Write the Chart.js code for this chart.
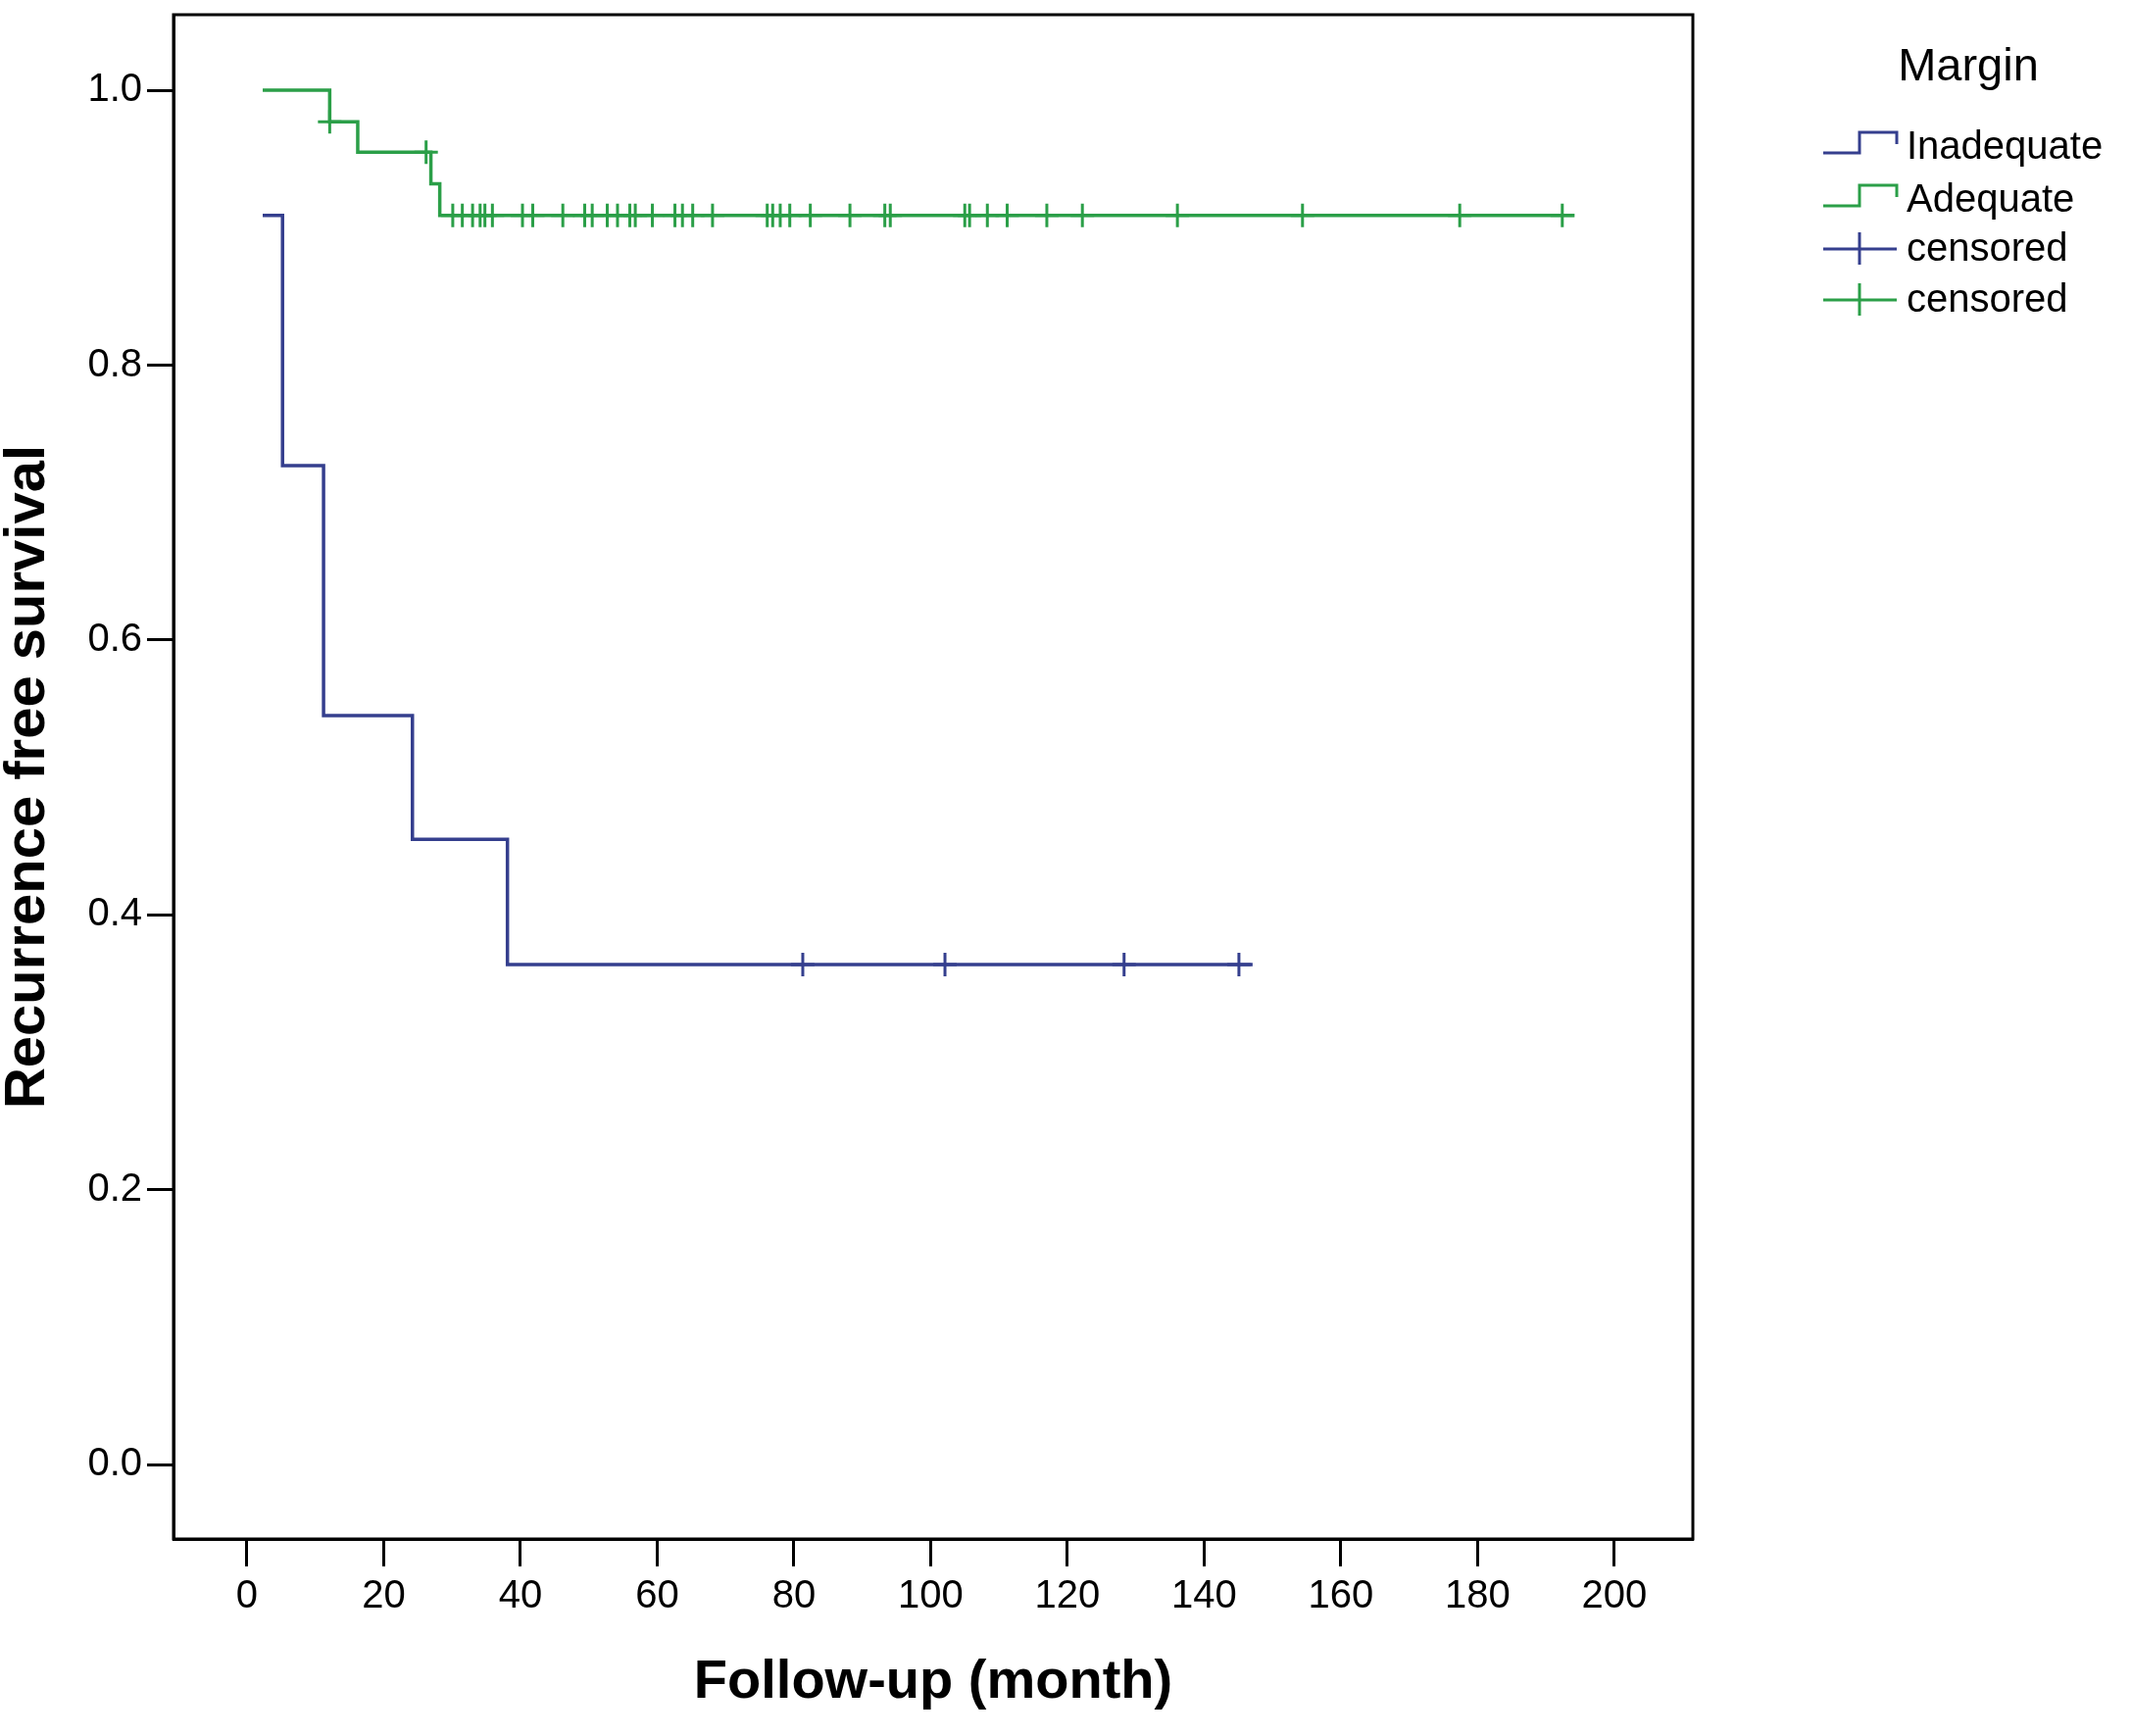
<!DOCTYPE html>
<html>
<head>
<meta charset="utf-8">
<title>Recurrence free survival by margin</title>
<script src="https://cdn.jsdelivr.net/npm/chart.js@4.4.1/dist/chart.umd.min.js"></script>
<style>
  html, body { margin: 0; padding: 0; background: #fff; }
  canvas { display: block; }
</style>
</head>
<body>
<canvas id="chart-km" width="2175" height="1771"></canvas>
<script>
// Kaplan-Meier steps: time (month) and survival after that time
const inadequate_time = [2.3, 5.2, 11.2, 24.2, 38.1, 147.1];
const inadequate_surv = [0.909, 0.727, 0.545, 0.455, 0.364, 0.364];
const inadequate_censored = [81.3, 102.1, 128.3, 145.1];

const adequate_time = [2.3, 12.1, 16.2, 26.9, 28.2, 194.2];
const adequate_surv = [1.0, 0.977, 0.955, 0.932, 0.909, 0.909];
const adequate_censored = [12.1, 26.2, 30.1, 31.5, 33.0, 34.1, 34.8, 35.9, 40.3, 41.8,
  46.2, 49.4, 50.5, 52.7, 54.2, 56.0, 56.8, 59.3, 62.6, 63.7, 65.2, 68.1,
  76.1, 76.9, 78.0, 79.4, 82.4, 88.2, 93.3, 94.1,
  105.0, 105.7, 108.3, 111.2, 117.0, 122.2, 136.1, 154.4, 177.4, 192.4];

const x_ticks = [0, 20, 40, 60, 80, 100, 120, 140, 160, 180, 200];
const y_ticks = [0.0, 0.2, 0.4, 0.6, 0.8, 1.0];

const blue = "#353f8e";
const green = "#2b9f48";
const font_family = "'Liberation Sans', Arial, sans-serif";

function surv_at(times, surv, t) {
  let s = surv[0];
  for (let i = 0; i < times.length; i++) {
    if (t >= times[i]) s = surv[i];
  }
  return s;
}

function steps(times, surv) {
  return times.map((t, i) => ({ x: t, y: surv[i] }));
}

function marks(times, surv, censored) {
  return censored.map((t) => ({ x: t, y: surv_at(times, surv, t) }));
}

// full frame round the plot area
const frame = {
  id: "frame",
  afterDraw(chart) {
    const { ctx, chartArea: a } = chart;
    ctx.save();
    ctx.strokeStyle = "#000";
    ctx.lineWidth = 3;
    ctx.strokeRect(a.left, a.top, a.right - a.left, a.bottom - a.top);
    ctx.restore();
  },
};

// SPSS style legend on the right
const legend_margin = {
  id: "legend_margin",
  afterDraw(chart) {
    const ctx = chart.ctx;
    const right = chart.chartArea.right;
    const sx0 = right + 133;
    const sx1 = right + 170;
    const sx2 = right + 208;
    const tx = right + 218;
    const baselines = [162, 216, 266, 318];
    ctx.save();
    ctx.fillStyle = "#000";
    ctx.textBaseline = "alphabetic";
    ctx.textAlign = "center";
    ctx.font = "47px " + font_family;
    ctx.fillText("Margin", right + 281, 82);
    ctx.textAlign = "left";
    ctx.font = "40px " + font_family;
    chart.data.datasets.forEach((ds, i) => {
      const b = baselines[i];
      ctx.strokeStyle = ds.borderColor;
      ctx.lineWidth = 3;
      ctx.beginPath();
      if (ds.legendKind === "step") {
        ctx.moveTo(sx0, b - 6);
        ctx.lineTo(sx1, b - 6);
        ctx.lineTo(sx1, b - 27);
        ctx.lineTo(sx2, b - 27);
        ctx.lineTo(sx2, b - 15);
      } else {
        ctx.moveTo(sx0, b - 12);
        ctx.lineTo(sx2, b - 12);
        ctx.moveTo(sx1, b - 29);
        ctx.lineTo(sx1, b + 4);
      }
      ctx.stroke();
      ctx.fillText(ds.label, tx, b);
    });
    ctx.restore();
  },
};

const ctx = document.getElementById("chart-km");
const chart = new Chart(ctx, {
  type: "scatter",
  data: {
    datasets: [
      {
        label: "Inadequate",
        legendKind: "step",
        data: steps(inadequate_time, inadequate_surv),
        showLine: true,
        stepped: "before",
        borderColor: blue,
        borderWidth: 3.5,
        pointRadius: 0,
      },
      {
        label: "Adequate",
        legendKind: "step",
        data: steps(adequate_time, adequate_surv),
        showLine: true,
        stepped: "before",
        borderColor: green,
        borderWidth: 3.5,
        pointRadius: 0,
      },
      {
        label: "censored",
        legendKind: "cross",
        data: marks(inadequate_time, inadequate_surv, inadequate_censored),
        pointStyle: "cross",
        pointRadius: 12,
        borderColor: blue,
        borderWidth: 3,
      },
      {
        label: "censored",
        legendKind: "cross",
        data: marks(adequate_time, adequate_surv, adequate_censored),
        pointStyle: "cross",
        pointRadius: 12,
        borderColor: green,
        borderWidth: 3,
      },
    ],
  },
  options: {
    responsive: false,
    devicePixelRatio: 1,
    animation: false,
    layout: {
      padding: { top: 12, right: 448, bottom: 0, left: 0 },
    },
    plugins: {
      legend: { display: false },
      tooltip: { enabled: false },
    },
    scales: {
      x: {
        type: "linear",
        min: -10.75,
        max: 211.5,
        afterBuildTicks: (scale) => {
          scale.ticks = x_ticks.map((v) => ({ value: v }));
        },
        afterFit: (scale) => {
          scale.height = 201;
          scale.paddingLeft = 0;
          scale.paddingRight = 0;
        },
        grid: {
          drawOnChartArea: false,
          tickLength: 28,
          tickWidth: 3,
          tickColor: "#000",
        },
        border: { color: "#000", width: 3 },
        ticks: {
          padding: 7,
          color: "#000",
          font: { family: font_family, size: 40 },
          maxRotation: 0,
          callback: (v) => v,
        },
        title: {
          display: true,
          text: "Follow-up (month)",
          color: "#000",
          font: { family: font_family, size: 56, weight: "bold", lineHeight: 1 },
          padding: { top: 0, bottom: 26 },
        },
      },
      y: {
        type: "linear",
        min: -0.054,
        max: 1.055,
        afterBuildTicks: (scale) => {
          scale.ticks = y_ticks.map((v) => ({ value: v }));
        },
        afterFit: (scale) => {
          scale.width = 177;
          scale.paddingTop = 0;
          scale.paddingBottom = 0;
        },
        grid: {
          drawOnChartArea: false,
          tickLength: 27,
          tickWidth: 3,
          tickColor: "#000",
        },
        border: { color: "#000", width: 3 },
        ticks: {
          padding: 5,
          color: "#000",
          font: { family: font_family, size: 40 },
          callback: (v) => v.toFixed(1),
        },
        title: {
          display: true,
          text: "Recurrence free survival",
          color: "#000",
          font: { family: font_family, size: 58, weight: "bold", lineHeight: 1 },
          padding: { top: 0, bottom: 0 },
        },
      },
    },
  },
  plugins: [frame, legend_margin],
});
</script>
</body>
</html>
